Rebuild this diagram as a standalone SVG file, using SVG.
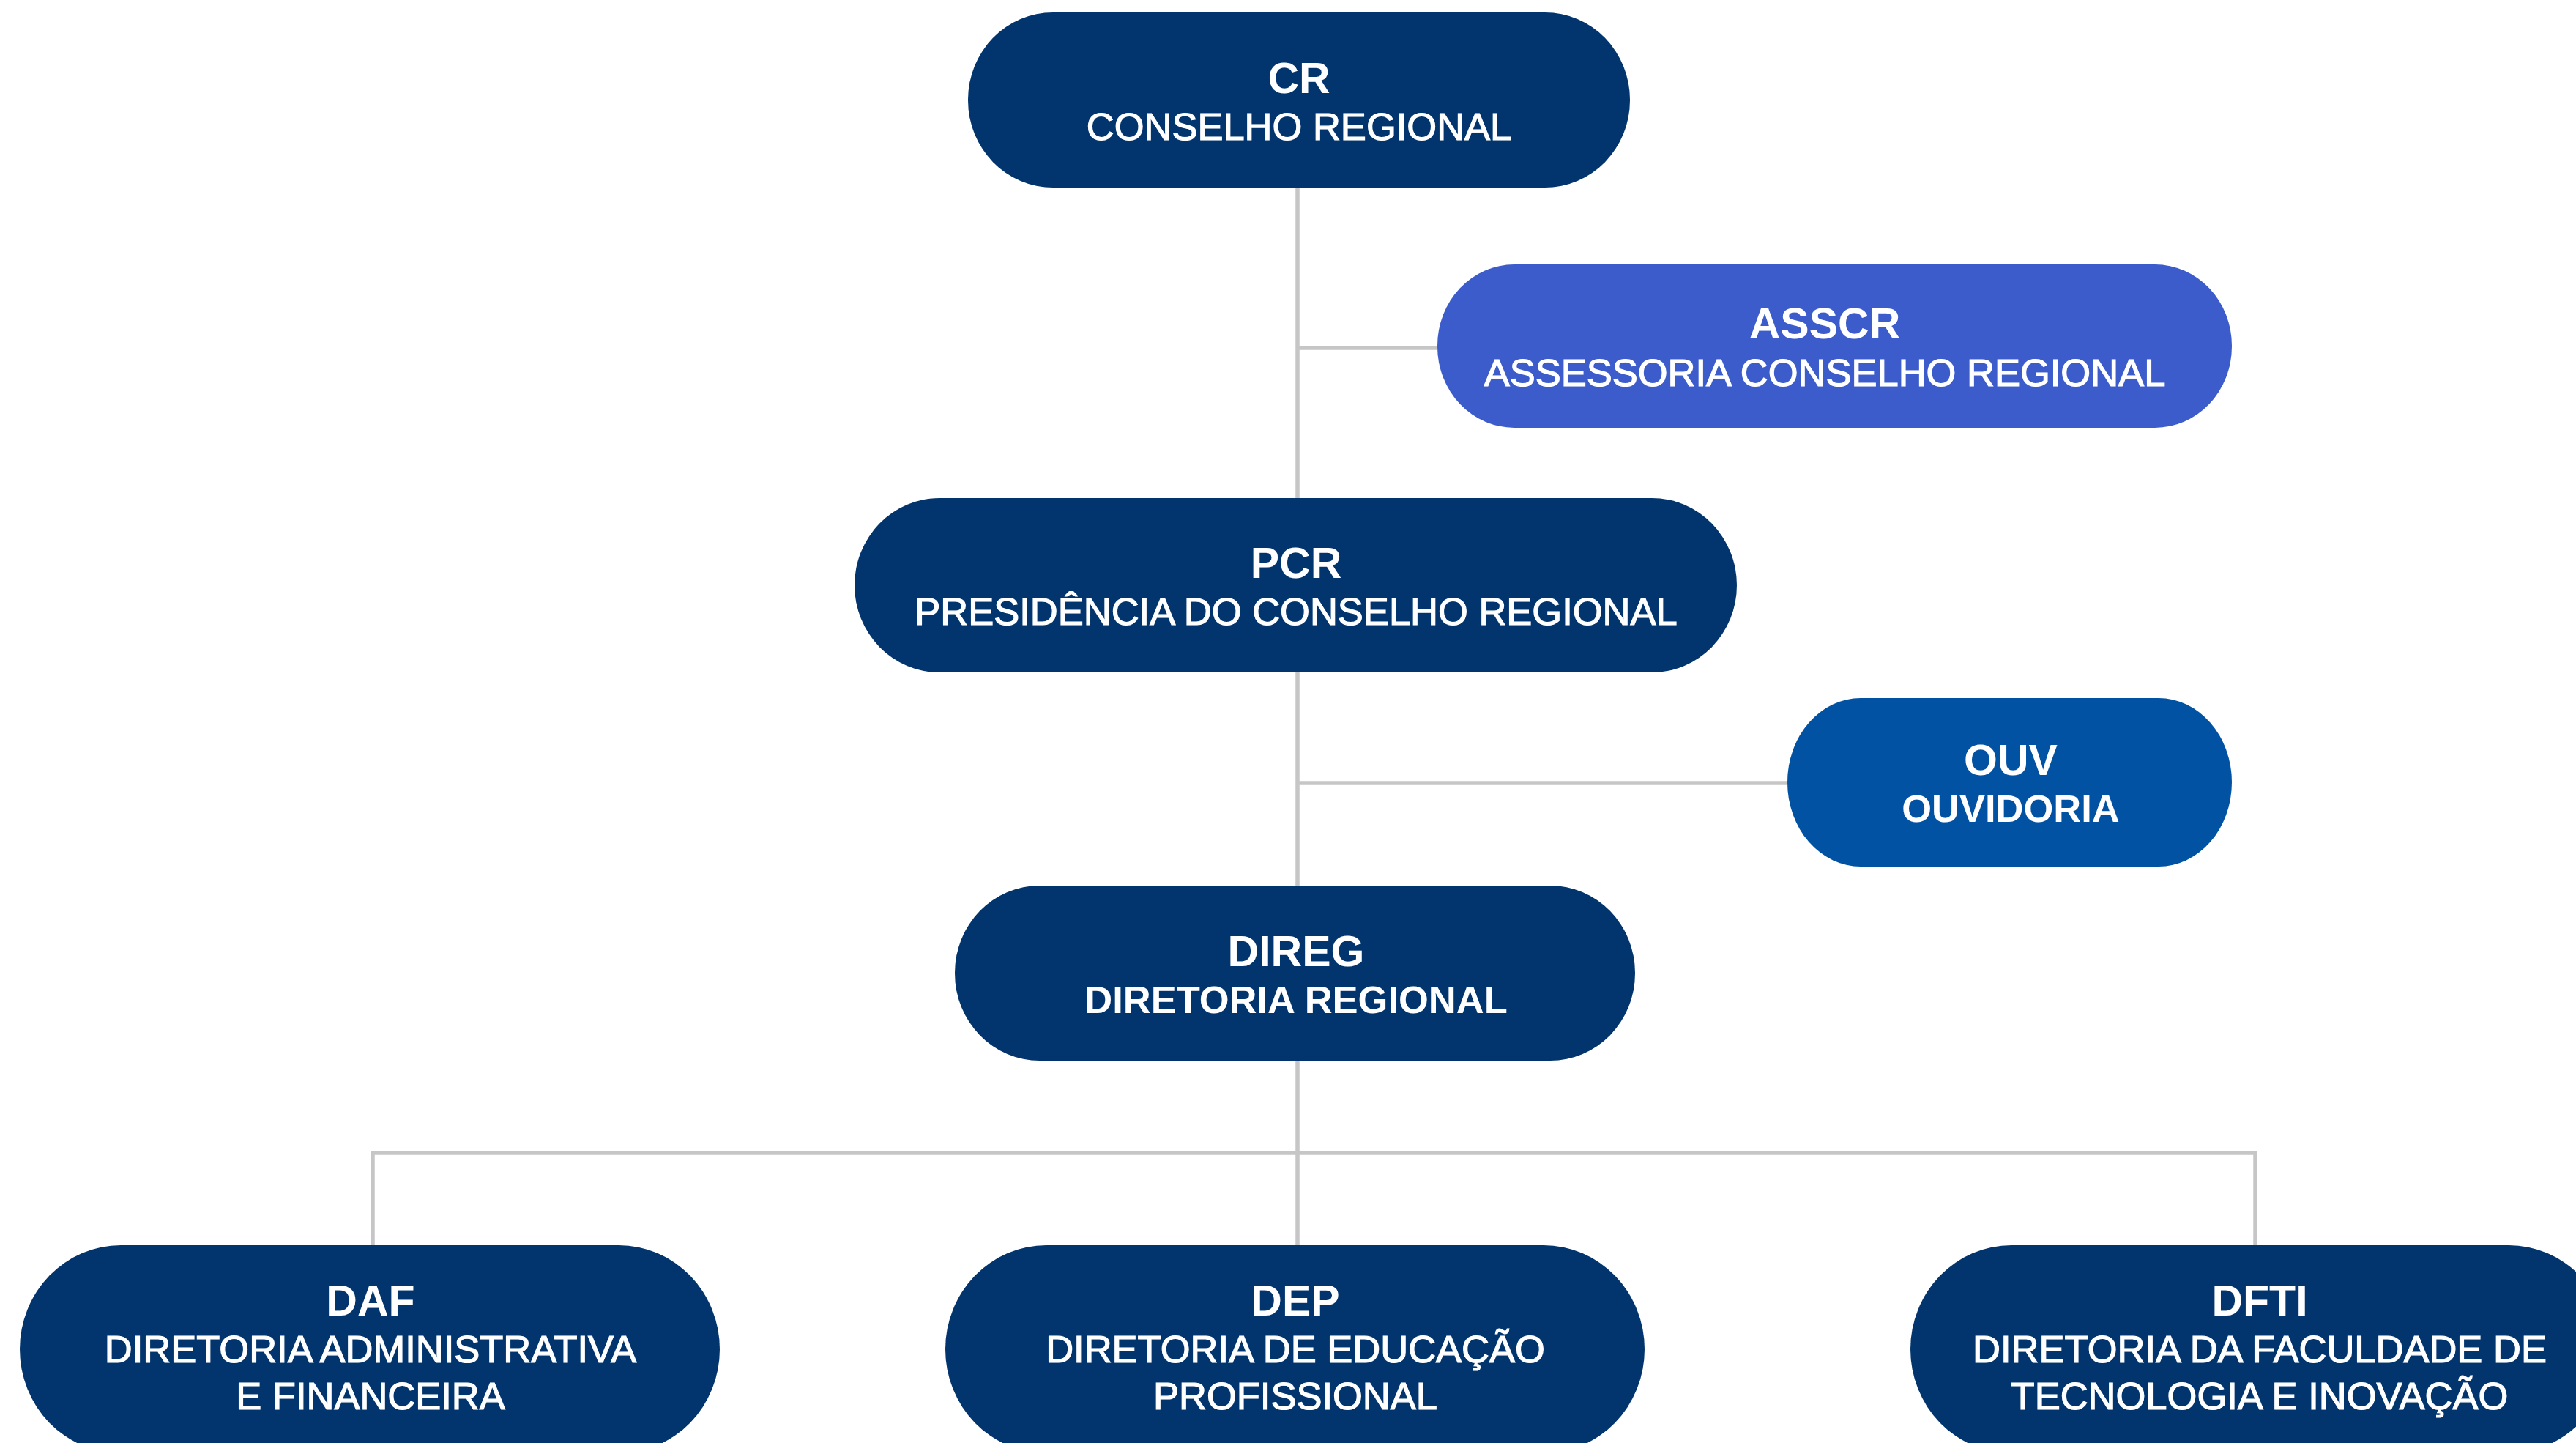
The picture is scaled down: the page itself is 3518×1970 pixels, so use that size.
<svg xmlns="http://www.w3.org/2000/svg" width="3518" height="1970" viewBox="0 0 3518 1970">
  <style>
    .conn { stroke: #c6c6c6; stroke-width: 5.5; fill: none; }
    .navy { fill: #02356e; }
    .asscr { fill: #3b5cca; }
    .ouv { fill: #0252a4; }
    text { font-family: "Liberation Sans", Arial, Helvetica, sans-serif; fill: #ffffff; text-anchor: middle; }
    .t { font-size: 59px; font-weight: bold; }
    .s { font-size: 52.5px; font-weight: normal; stroke: #ffffff; stroke-width: 1.2; }
    .sb { font-size: 52.5px; font-weight: bold; }
  </style>
  <rect width="3518" height="1970" fill="#ffffff"/>
  <g id="connectors">
    <line class="conn" x1="1772" y1="250" x2="1772" y2="1705"/>
    <line class="conn" x1="1772" y1="475" x2="1968" y2="475"/>
    <line class="conn" x1="1772" y1="1069" x2="2446" y2="1069"/>
    <polyline class="conn" points="509,1705 509,1574 3080,1574 3080,1705"/>
  </g>
  <g id="node-cr">
    <rect class="navy" x="1322" y="17" width="904" height="239" rx="116" ry="119"/>
    <text class="t" x="1774" y="127">CR</text>
    <text class="s" x="1774" y="191">CONSELHO REGIONAL</text>
  </g>
  <g id="node-asscr">
    <rect class="asscr" x="1963" y="361" width="1085" height="223" rx="105" ry="111"/>
    <text class="t" x="2492" y="462">ASSCR</text>
    <text class="s" x="2492" y="527">ASSESSORIA CONSELHO REGIONAL</text>
  </g>
  <g id="node-pcr">
    <rect class="navy" x="1167" y="680" width="1205" height="238" rx="116" ry="119"/>
    <text class="t" x="1770" y="789">PCR</text>
    <text class="s" x="1770" y="853">PRESIDÊNCIA DO CONSELHO REGIONAL</text>
  </g>
  <g id="node-ouv">
    <rect class="ouv" x="2441" y="953" width="607" height="230" rx="100" ry="115"/>
    <text class="t" x="2746" y="1058">OUV</text>
    <text class="sb" x="2746" y="1122">OUVIDORIA</text>
  </g>
  <g id="node-direg">
    <rect class="navy" x="1304" y="1209" width="929" height="239" rx="116" ry="119"/>
    <text class="t" x="1770" y="1319">DIREG</text>
    <text class="sb" x="1770" y="1383">DIRETORIA REGIONAL</text>
  </g>
  <g id="node-daf">
    <rect class="navy" x="27" y="1700" width="956" height="284" rx="138" ry="142"/>
    <text class="t" x="506" y="1796">DAF</text>
    <text class="s" x="506" y="1860">DIRETORIA ADMINISTRATIVA</text>
    <text class="s" x="506" y="1924">E FINANCEIRA</text>
  </g>
  <g id="node-dep">
    <rect class="navy" x="1291" y="1700" width="955" height="284" rx="138" ry="142"/>
    <text class="t" x="1769" y="1796">DEP</text>
    <text class="s" x="1769" y="1860">DIRETORIA DE EDUCAÇÃO</text>
    <text class="s" x="1769" y="1924">PROFISSIONAL</text>
  </g>
  <g id="node-dfti">
    <rect class="navy" x="2609" y="1700" width="955" height="284" rx="138" ry="142"/>
    <text class="t" x="3086" y="1796">DFTI</text>
    <text class="s" x="3086" y="1860">DIRETORIA DA FACULDADE DE</text>
    <text class="s" x="3086" y="1924">TECNOLOGIA E INOVAÇÃO</text>
  </g>
</svg>
